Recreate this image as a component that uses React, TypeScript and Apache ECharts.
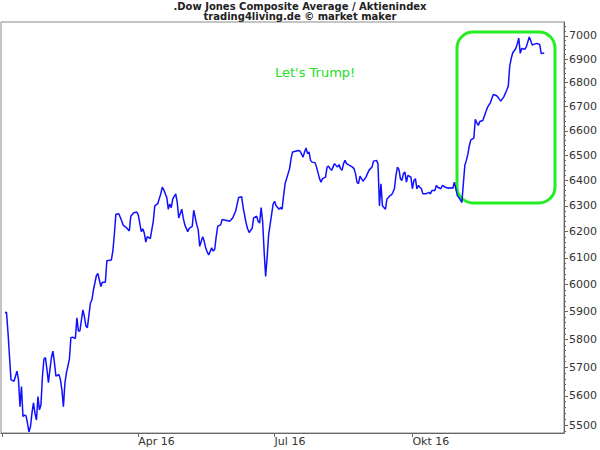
import React, { useEffect, useRef } from "react";
import * as echarts from "echarts";

const dates = [
  "2016-01-03","2016-01-04","2016-01-05","2016-01-06","2016-01-07","2016-01-09","2016-01-10","2016-01-11","2016-01-12","2016-01-13",
  "2016-01-14","2016-01-15","2016-01-16","2016-01-17","2016-01-18","2016-01-19","2016-01-20","2016-01-21","2016-01-22","2016-01-23",
  "2016-01-24","2016-01-25","2016-01-26","2016-01-27","2016-01-28","2016-01-29","2016-01-30","2016-01-31","2016-02-01","2016-02-02",
  "2016-02-03","2016-02-04","2016-02-05","2016-02-06","2016-02-08","2016-02-09","2016-02-10","2016-02-11","2016-02-12","2016-02-13",
  "2016-02-15","2016-02-16","2016-02-17","2016-02-19","2016-02-20","2016-02-21","2016-02-22","2016-02-24","2016-02-25","2016-02-26",
  "2016-02-27","2016-02-29","2016-03-01","2016-03-02","2016-03-04","2016-03-05","2016-03-07","2016-03-08","2016-03-10","2016-03-11",
  "2016-03-14","2016-03-15","2016-03-16","2016-03-17","2016-03-19","2016-03-21","2016-03-22","2016-03-24","2016-03-26","2016-03-27",
  "2016-03-29","2016-03-31","2016-04-01","2016-04-03","2016-04-04","2016-04-05","2016-04-06","2016-04-07","2016-04-09","2016-04-11",
  "2016-04-12","2016-04-14","2016-04-16","2016-04-17","2016-04-18","2016-04-20","2016-04-21","2016-04-22","2016-04-23","2016-04-24",
  "2016-04-26","2016-04-27","2016-04-28","2016-04-30","2016-05-01","2016-05-02","2016-05-04","2016-05-05","2016-05-07","2016-05-08",
  "2016-05-10","2016-05-11","2016-05-12","2016-05-14","2016-05-15","2016-05-16","2016-05-17","2016-05-18","2016-05-20","2016-05-21",
  "2016-05-22","2016-05-23","2016-05-24","2016-05-26","2016-05-27","2016-05-30","2016-06-01","2016-06-03","2016-06-05","2016-06-06",
  "2016-06-07","2016-06-09","2016-06-10","2016-06-12","2016-06-13","2016-06-14","2016-06-16","2016-06-17","2016-06-19","2016-06-20",
  "2016-06-21","2016-06-22","2016-06-23","2016-06-24","2016-06-25","2016-06-26","2016-06-27","2016-06-30","2016-07-01","2016-07-02",
  "2016-07-04","2016-07-05","2016-07-06","2016-07-07","2016-07-08","2016-07-11","2016-07-12","2016-07-13","2016-07-15","2016-07-17",
  "2016-07-18","2016-07-20","2016-07-21","2016-07-22","2016-07-23","2016-07-24","2016-07-25","2016-07-26","2016-07-28","2016-07-29",
  "2016-07-31","2016-08-01","2016-08-02","2016-08-04","2016-08-05","2016-08-06","2016-08-07","2016-08-08","2016-08-10","2016-08-11",
  "2016-08-12","2016-08-13","2016-08-14","2016-08-15","2016-08-16","2016-08-17","2016-08-18","2016-08-20","2016-08-22","2016-08-23",
  "2016-08-24","2016-08-25","2016-08-26","2016-08-27","2016-08-28","2016-08-29","2016-08-31","2016-09-01","2016-09-02","2016-09-04",
  "2016-09-05","2016-09-07","2016-09-08","2016-09-09","2016-09-10","2016-09-11","2016-09-12","2016-09-13","2016-09-14","2016-09-15",
  "2016-09-16","2016-09-17","2016-09-18","2016-09-19","2016-09-20","2016-09-21","2016-09-22","2016-09-23","2016-09-24","2016-09-25",
  "2016-09-26","2016-09-27","2016-09-28","2016-09-30","2016-10-01","2016-10-02","2016-10-03","2016-10-04","2016-10-05","2016-10-06",
  "2016-10-07","2016-10-08","2016-10-10","2016-10-12","2016-10-13","2016-10-14","2016-10-16","2016-10-17","2016-10-18","2016-10-20",
  "2016-10-21","2016-10-23","2016-10-25","2016-10-26","2016-10-28","2016-10-29","2016-10-30","2016-10-31","2016-11-01","2016-11-02",
  "2016-11-03","2016-11-05","2016-11-06","2016-11-07","2016-11-08","2016-11-09","2016-11-11","2016-11-12","2016-11-13","2016-11-14",
  "2016-11-15","2016-11-17","2016-11-19","2016-11-20","2016-11-22","2016-11-24","2016-11-26","2016-11-27","2016-11-29","2016-12-01",
  "2016-12-03","2016-12-04","2016-12-05","2016-12-06","2016-12-07","2016-12-09","2016-12-10","2016-12-11","2016-12-12","2016-12-13",
  "2016-12-15","2016-12-16","2016-12-18","2016-12-19","2016-12-20","2016-12-22","2016-12-23","2016-12-25","2016-12-26","2016-12-28"
];

const values = [
  5896,5898,5825,5740,5657,5651,5669,5687,5657,5563,
  5633,5529,5534,5532,5507,5477,5494,5541,5576,5541,
  5517,5598,5552,5569,5669,5729,5735,5693,5646,5693,
  5735,5758,5718,5669,5675,5657,5621,5563,5645,5681,
  5729,5806,5808,5803,5878,5830,5830,5907,5883,5848,
  5842,5931,5943,5979,6033,6042,5993,6009,6009,6089,
  6092,6126,6188,6267,6269,6240,6224,6216,6203,6260,
  6273,6276,6264,6200,6211,6194,6160,6181,6173,6240,
  6300,6309,6347,6373,6363,6333,6287,6307,6293,6327,
  6347,6313,6253,6287,6253,6227,6200,6213,6220,6283,
  6227,6207,6144,6181,6163,6138,6123,6111,6138,6126,
  6132,6181,6220,6227,6247,6243,6240,6253,6280,6307,
  6333,6336,6293,6233,6211,6197,6213,6253,6260,6240,
  6233,6293,6240,6126,6030,6101,6188,6307,6318,6300,
  6287,6293,6287,6340,6387,6447,6487,6514,6517,6520,
  6517,6493,6514,6530,6507,6514,6480,6473,6471,6453,
  6407,6393,6407,6413,6453,6457,6447,6440,6467,6460,
  6453,6463,6447,6440,6467,6480,6467,6460,6453,6447,
  6427,6393,6387,6417,6407,6397,6413,6427,6440,6453,
  6477,6480,6467,6300,6387,6300,6293,6287,6327,6333,
  6340,6343,6353,6367,6420,6453,6444,6407,6400,6427,
  6433,6393,6420,6413,6367,6400,6407,6367,6380,6373,
  6367,6347,6347,6353,6347,6360,6360,6380,6373,6367,
  6380,6373,6369,6371,6369,6393,6367,6340,6333,6323,
  6313,6460,6480,6504,6539,6563,6570,6647,6632,6622,
  6638,6642,6677,6695,6715,6750,6746,6740,6722,6740,
  6769,6785,6871,6903,6927,6945,6965,6990,6924,6945,
  6942,6951,6995,6979,6960,6965,6967,6962,6923,6926
];

const yTickValues = [5500, 5600, 5700, 5800, 5900, 6000, 6100, 6200, 6300, 6400, 6500, 6600, 6700, 6800, 6900, 7000];
const xTickDates = ["2016-01-01", "2016-04-01", "2016-07-01", "2016-10-01"];
const xLabelDates = ["2016-04-01", "2016-07-01", "2016-10-01"];
const monthNames = ["Jan", "Feb", "Mär", "Apr", "Mai", "Jun", "Jul", "Aug", "Sep", "Okt", "Nov", "Dez"];
const yMin = 5473;
const yMax = 7060;
const xMin = "2015-12-31T08:00";
const xMax = "2017-01-10T05:00";

function parseDate(s: string): number {
  const [datePart, timePart] = s.split("T");
  const [y, m, d] = datePart.split("-").map(Number);
  let h = 0, mi = 0;
  if (timePart) {
    const t = timePart.split(":").map(Number);
    h = t[0];
    mi = t[1];
  }
  return new Date(y, m - 1, d, h, mi).getTime();
}

export default function App() {
  const ref = useRef<HTMLDivElement>(null);

  useEffect(() => {
    if (!ref.current) return;
    const chart = echarts.init(ref.current, null, { renderer: "svg" });

    const minorTicks: number[] = [];
    for (let v = 5480; v <= 7040; v += 20) {
      if (v % 100 !== 0) minorTicks.push(Math.log(v));
    }

    const seriesData = dates.map((d, i) => [parseDate(d), Math.log(values[i])]);
    const font = "DejaVu Sans";

    chart.setOption({
      animation: false,
      backgroundColor: "#ffffff",
      title: {
        text: ".Dow Jones Composite Average / Aktienindex\ntrading4living.de © market maker",
        left: "center",
        top: 0,
        padding: [1, 0, 0, 0],
        textStyle: {
          fontFamily: font,
          fontSize: 10,
          fontWeight: "bold",
          color: "#222",
          lineHeight: 10,
        },
      },
      grid: {
        left: 1,
        right: 34,
        top: 22,
        bottom: 17,
        show: true,
        borderColor: "#8a8a8a",
        borderWidth: 1,
        containLabel: false,
      },
      xAxis: {
        type: "value",
        min: parseDate(xMin),
        max: parseDate(xMax),
        axisLine: { show: true, lineStyle: { color: "#666", width: 1 } },
        axisTick: {
          show: true,
          length: 4,
          customValues: xTickDates.map(parseDate),
          lineStyle: { color: "#666" },
        },
        axisLabel: {
          customValues: xLabelDates.map(parseDate),
          align: "left",
          margin: 3,
          fontFamily: font,
          fontSize: 11,
          color: "#333",
          formatter: (v: number) => {
            const dt = new Date(v);
            return monthNames[dt.getMonth()] + " " + String(dt.getFullYear()).slice(2);
          },
        },
        splitLine: { show: false },
      },
      yAxis: [
        {
          type: "value",
          position: "right",
          min: Math.log(yMin),
          max: Math.log(yMax),
          axisLine: { show: true, lineStyle: { color: "#666", width: 1 } },
          axisTick: {
            show: true,
            length: 4,
            customValues: yTickValues.map((v) => Math.log(v)),
            lineStyle: { color: "#666" },
          },
          axisLabel: {
            customValues: yTickValues.map((v) => Math.log(v)),
            margin: 5,
            fontFamily: font,
            fontSize: 11,
            color: "#333",
            formatter: (v: number) => String(Math.round(Math.exp(v))),
          },
          splitLine: { show: false },
        },
        {
          type: "value",
          position: "right",
          offset: 0,
          min: Math.log(yMin),
          max: Math.log(yMax),
          axisLine: { show: false },
          axisTick: {
            show: true,
            length: 2,
            customValues: minorTicks,
            lineStyle: { color: "#666" },
          },
          axisLabel: { show: false },
          splitLine: { show: false },
        },
      ],
      series: [
        {
          type: "line",
          data: seriesData,
          showSymbol: false,
          symbol: "none",
          lineStyle: { color: "#1010ff", width: 1.5 },
          itemStyle: { color: "#1010ff" },
        },
      ],
      graphic: [
        {
          type: "text",
          left: 275,
          top: 66,
          style: {
            text: "Let's Trump!",
            fontFamily: font,
            fontSize: 13,
            fill: "#22e022",
          },
        },
        {
          type: "rect",
          shape: { x: 457, y: 32, width: 98, height: 171, r: 16 },
          style: { fill: "none", stroke: "#22ee22", lineWidth: 3 },
        },
      ],
    });

    return () => chart.dispose();
  }, []);

  return (
    <div
      ref={ref}
      style={{ position: "fixed", left: 0, top: 0, width: 600, height: 450 }}
    />
  );
}
